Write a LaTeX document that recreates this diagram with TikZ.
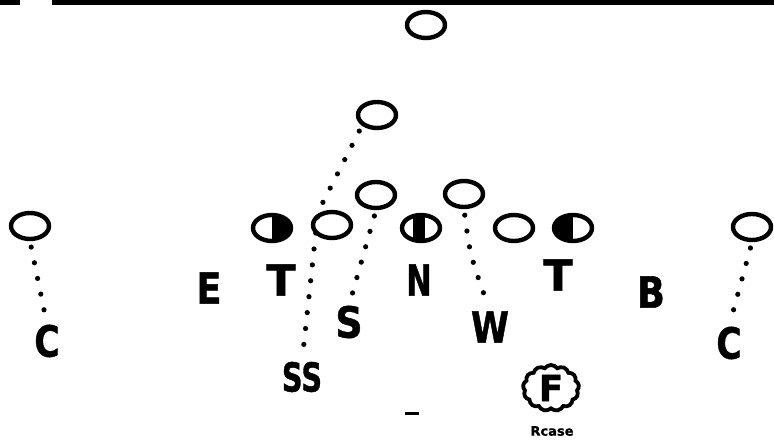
\documentclass[tikz,border=0pt]{standalone}
\usepackage{fontspec}
\setsansfont{DejaVu Sans}[BoldFeatures={FakeBold=1.2}]
\usetikzlibrary{shapes.geometric,shapes.symbols}
\newcommand{\nar}[2]{\scalebox{#1}[1]{#2}}
\begin{document}
\begin{tikzpicture}[x=1pt,y=-1pt,
  player/.style={draw, ellipse, line width=4.4pt, minimum width=38pt, minimum height=26pt, inner sep=0pt},
  halfR/.style={player, path picture={\fill (path picture bounding box.north) rectangle (path picture bounding box.south east);}},
  halfL/.style={player, path picture={\fill (path picture bounding box.north) rectangle (path picture bounding box.south west);}},
  halfM/.style={player, path picture={\fill ([xshift=-8pt]path picture bounding box.north) rectangle ([xshift=4pt]path picture bounding box.south);}},
  lbl/.style={font=\sffamily\bfseries\fontsize{43}{43}\selectfont, inner sep=0pt},
  dotline/.style={line width=5.2pt, line cap=round, dash pattern=on 0pt off 16pt, shorten <=6pt, shorten >=4pt}
]
\useasboundingbox (0,0) rectangle (774,447);
% top bar
\fill (0,0) rectangle (20,5);
\fill (52,0) rectangle (774,5);
% players
\node[player] (o1) at (426,25) {};
\node[player] (o2) at (377,115) {};
\node[player] (o3) at (376,195) {};
\node[player] (o4) at (464,194) {};
\node[player] (cl) at (30,226) {};
\node[player] (cr) at (752,227) {};
\node[halfR] (tl) at (272,228) {};
\node[player] (og1) at (332,225) {};
\node[halfM] (nh) at (421,228) {};
\node[player] (og2) at (514,228) {};
\node[halfL] (tr) at (573,228) {};
% letters
\node[lbl] (E) at (209,288) {\nar{0.85}{E}};
\node[lbl] (T1) at (281,280) {T};
\node[lbl] (N) at (419,280) {\nar{0.7}{N}};
\node[lbl] (T2) at (558,275) {T};
\node[lbl] (B) at (651,292) {\nar{0.85}{B}};
\node[lbl] (S) at (349,322) {\nar{0.88}{S}};
\node[lbl] (W) at (490,327) {\nar{0.8}{W}};
\node[lbl] (Cl) at (47,341) {\nar{0.8}{C}};
\node[lbl] (Cr) at (729,343) {\nar{0.8}{C}};
\node[lbl, font=\sffamily\bfseries\fontsize{40}{40}\selectfont] (SS) at (302,377) {\nar{0.72}{SS}};
\node[draw, cloud, cloud puffs=13, cloud puff arc=110, aspect=1.15, line width=3.8pt, minimum width=56pt, minimum height=46pt, inner sep=0pt,
      font=\sffamily\bfseries\fontsize{36}{36}\selectfont] (F) at (551,388) {F};
\node[font=\sffamily\bfseries\fontsize{13}{13}\selectfont, inner sep=0pt] (rc) at (552,431) {Rcase};
\coordinate (d1) at (405,413);
\coordinate (d2) at (419,413);
\draw[line width=3pt] (d1) -- (d2);
% dotted routes
\draw[dotline] (cl.south) -- (Cl.north);
\draw[dotline] (cr.south) -- (Cr.north);
\draw[dotline] (o3.south) -- (S.north);
\draw[dotline] (o4.south) .. controls (470,255) .. (W.north);
\coordinate (bend) at (318,212);
\draw[dotline] (o2.south west) -- (bend) -- (SS.north);
\end{tikzpicture}
\end{document}
